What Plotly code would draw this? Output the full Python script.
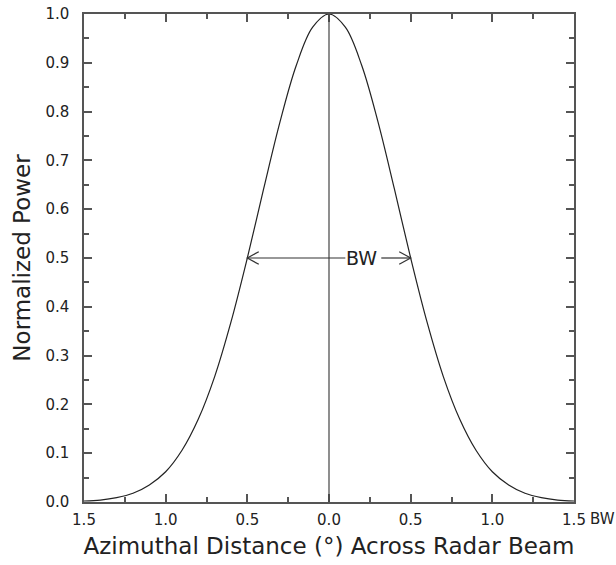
import plotly.graph_objects as go

# Beam pattern (distance in beamwidths, normalized power)
distance = [-1.5, -1.4, -1.3, -1.2, -1.1, -1.0, -0.9, -0.8, -0.7, -0.6, -0.5, -0.4, -0.3, -0.2, -0.1,
            0.0, 0.1, 0.2, 0.3, 0.4, 0.5, 0.6, 0.7, 0.8, 0.9, 1.0, 1.1, 1.2, 1.3, 1.4, 1.5]
power = [0.002, 0.004, 0.009, 0.018, 0.035, 0.062, 0.106, 0.170, 0.257, 0.369, 0.500, 0.642, 0.779, 0.895, 0.973,
         1.000, 0.973, 0.895, 0.779, 0.642, 0.500, 0.369, 0.257, 0.170, 0.106, 0.062, 0.035, 0.018, 0.009, 0.004, 0.002]

x_tickvals = [-1.5, -1.0, -0.5, 0.0, 0.5, 1.0, 1.5]
x_ticktext = ["1.5", "1.0", "0.5", "0.0", "0.5", "1.0", "1.5"]
y_tickvals = [0.0, 0.1, 0.2, 0.3, 0.4, 0.5, 0.6, 0.7, 0.8, 0.9, 1.0]
y_ticktext = ["0.0", "0.1", "0.2", "0.3", "0.4", "0.5", "0.6", "0.7", "0.8", "0.9", "1.0"]

half_power = 0.5
bw_left, bw_right = -0.5, 0.5
bw_label_x = 0.2

FONT = "DejaVu Sans"
AX = "#555555"
TXT = "#222222"

fig = go.Figure()
fig.add_trace(go.Scatter(x=distance, y=power, mode="lines", line=dict(color="#222222", width=1.2, shape="spline"),
                         hoverinfo="skip", showlegend=False))

shapes = []
shapes.append(dict(type="line", xref="x", yref="y", x0=0, x1=0, y0=0, y1=1, line=dict(color="#444444", width=1.2)))
shapes.append(dict(type="line", xref="x", yref="y", x0=bw_left, x1=bw_label_x - 0.1, y0=half_power, y1=half_power,
                   line=dict(color="#333333", width=1.2)))
shapes.append(dict(type="line", xref="x", yref="y", x0=bw_label_x + 0.12, x1=bw_right, y0=half_power, y1=half_power,
                   line=dict(color="#333333", width=1.2)))
hx, hy = 0.07, 0.013
shapes.append(dict(type="path", xref="x", yref="y",
                   path=f"M {bw_left + hx} {half_power + hy} L {bw_left} {half_power} L {bw_left + hx} {half_power - hy}",
                   line=dict(color="#333333", width=1.2)))
shapes.append(dict(type="path", xref="x", yref="y",
                   path=f"M {bw_right - hx} {half_power + hy} L {bw_right} {half_power} L {bw_right - hx} {half_power - hy}",
                   line=dict(color="#333333", width=1.2)))

annotations = [
    dict(x=bw_label_x, y=half_power, xref="x", yref="y", text="BW", showarrow=False,
         font=dict(family=FONT, size=19, color=TXT)),
    dict(x=1.5, y=0, xref="x", yref="paper", text="BW", showarrow=False, xanchor="left", yanchor="top",
         xshift=14, yshift=-6, font=dict(family=FONT, size=15, color=TXT)),
]

axis_common = dict(showline=True, linecolor=AX, linewidth=1.5, mirror="allticks", ticks="inside",
                   ticklen=8, tickwidth=1.5, tickcolor=AX, showgrid=False, zeroline=False, automargin=False,
                   tickfont=dict(family=FONT, size=15, color=TXT))

fig.update_layout(
    width=616, height=565,
    margin=dict(l=84, r=42, t=14, b=63),
    paper_bgcolor="white", plot_bgcolor="white",
    shapes=shapes, annotations=annotations,
    xaxis=dict(range=[-1.5, 1.5], tickvals=x_tickvals, ticktext=x_ticktext,
               minor=dict(ticks="inside", ticklen=5, tickwidth=1.5, tickcolor=AX, dtick=0.25, tick0=-1.5),
               title=dict(text="Azimuthal Distance (°) Across Radar Beam", standoff=10,
                          font=dict(family=FONT, size=23, color=TXT)),
               ticklabelstandoff=3, **axis_common),
    yaxis=dict(range=[0, 1], tickvals=y_tickvals, ticktext=y_ticktext,
               minor=dict(ticks="inside", ticklen=5, tickwidth=1.5, tickcolor=AX, dtick=0.05, tick0=0),
               title=dict(text="Normalized Power", standoff=8,
                          font=dict(family=FONT, size=23, color=TXT)),
               ticklabelstandoff=10, **axis_common),
)

fig.write_html("out.html", config={"displayModeBar": False},
               post_script="document.body.style.margin='0';document.body.style.overflow='hidden';")
